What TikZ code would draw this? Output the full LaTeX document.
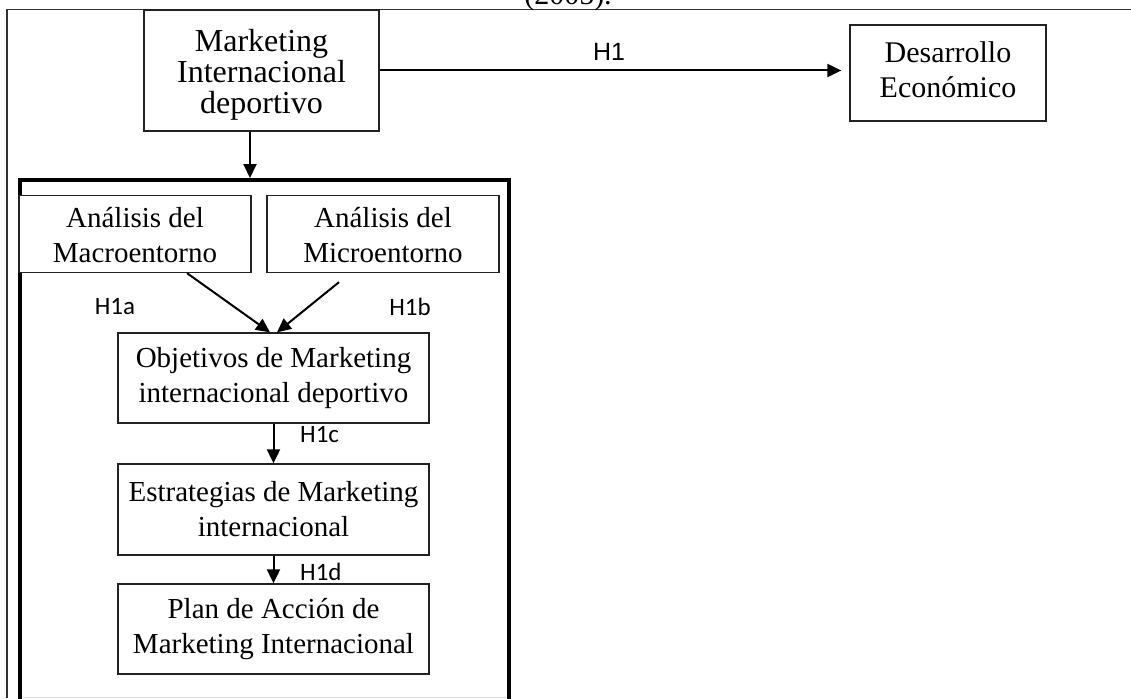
\documentclass[tikz,border=0pt]{standalone}
\usepackage{fontspec}
\setmainfont{Liberation Serif}
\newfontfamily\labfont{Carlito}
\newfontfamily\arialfont{Liberation Sans}
\usetikzlibrary{arrows.meta,calc}
\definecolor{boxline}{HTML}{222222}
\definecolor{frameline}{HTML}{333333}
\newcommand{\boxlines}[2]{\raisebox{#1}[\height][\depth]{\begin{tabular}{@{}c@{}}#2\end{tabular}}}
\tikzset{
  boxnode/.style={draw=boxline, line width=1.3pt, inner sep=0pt, align=center,
    font=\fontsize{29}{35}\selectfont},
  arr/.style={draw=black, line width=2pt, -{Triangle[length=14pt,width=13pt]}},
  hlab/.style={font=\labfont\fontsize{25}{28}\selectfont, inner sep=0pt},
}
\begin{document}
\begin{tikzpicture}[x=1pt,y=-1pt]
\useasboundingbox (0,0) rectangle (1131,698);
\clip (0,0) rectangle (1131,698);
% outer thin frame
\draw[frameline, line width=1.5pt] (7,698) -- (7,9.5) -- (1131,9.5);
\node[anchor=base, font=\fontsize{30}{34}\selectfont, inner sep=0pt] (cap) at (568,5) {(2005).};
% big thick frame
\node[draw=black, line width=4pt, minimum width=489pt, minimum height=560pt, inner sep=0pt] (frame) at (264.5,460) {};
\draw[gray!25, line width=1pt] (22,697) -- (507,697);
% boxes
\node[boxnode, minimum width=235pt, minimum height=121pt, font=\fontsize{32}{28.5}\selectfont, fill=white] (mkt) at (261.5,70.5) {\boxlines{-5pt}{Marketing\\Internacional\\deportivo}};
\node[boxnode, minimum width=196pt, minimum height=96pt, font=\fontsize{30}{35}\selectfont] (des) at (948,73) {\boxlines{0pt}{Desarrollo\\Económico}};
\node[boxnode, minimum width=232pt, minimum height=77pt, fill=white] (macro) at (135,234) {\boxlines{-4pt}{Análisis del\\Macroentorno}};
\node[boxnode, minimum width=232pt, minimum height=77pt] (micro) at (383,234) {\boxlines{-4pt}{Análisis del\\Microentorno}};
\node[boxnode, minimum width=311pt, minimum height=90pt] (obj) at (273.5,378) {Objetivos de Marketing\\internacional deportivo};
\node[boxnode, minimum width=311pt, minimum height=91pt] (est) at (273.5,509.5) {Estrategias de Marketing\\internacional};
\node[boxnode, minimum width=311pt, minimum height=90pt] (plan) at (273.5,629) {Plan de Acción de\\Marketing Internacional};
% connectors
\draw[arr] ([xshift=-11.5pt]mkt.south) -- ([xshift=-11.5pt]mkt.south |- frame.north);
\draw[arr] (mkt.east) -- ([xshift=-8pt]mkt.east -| des.west);
\draw[arr] ([xshift=52pt]macro.south) -- ([xshift=-3.5pt]obj.north);
\draw[arr] ([xshift=-44pt,yshift=-9pt]micro.south) -- ([xshift=3.5pt]obj.north);
\draw[arr] (obj.south) -- (est.north);
\draw[arr] (est.south) -- (plan.north);
% labels
\node[font=\arialfont\fontsize{25}{28}\selectfont, inner sep=0pt] (h1) at (609,52) {H1};
\node[hlab] (h1a) at (115,307) {H1a};
\node[hlab] (h1b) at (410,307) {H1b};
\node[hlab, anchor=west] (h1c) at (300,435) {H1c};
\node[hlab, anchor=west] (h1d) at (300,572) {H1d};
\end{tikzpicture}
\end{document}
